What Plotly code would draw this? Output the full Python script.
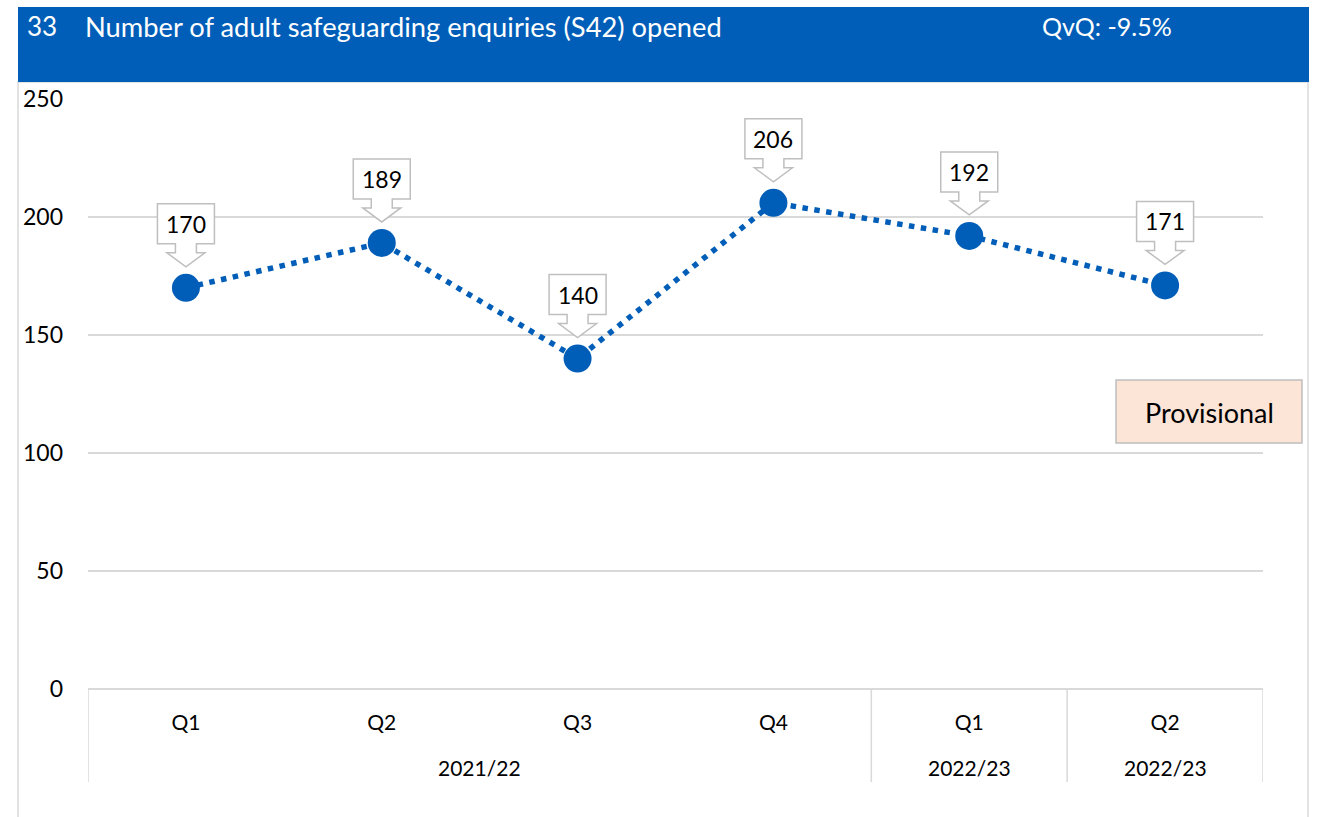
import plotly.graph_objects as go

# Quarterly counts of adult safeguarding enquiries (S42) opened
quarters = ["Q1", "Q2", "Q3", "Q4", "Q1", "Q2"]
years = ["2021/22", "", "", "", "2022/23", "2022/23"]  # blank = same group as previous
values = [170, 189, 140, 206, 192, 171]
y_ticks = [0, 50, 100, 150, 200, 250]

title_number = "33"
title_text = "Number of adult safeguarding enquiries (S42) opened"
qvq_text = "QvQ: -9.5%"
status_text = "Provisional"

BLUE = "#005EB8"
GRID = "#D9D9D9"
BOX_LINE = "#BFBFBF"
FONT = "Lato"

W, H = 1325, 817
L, R, T, B = 88, 62, 99, 128
plot_w = W - L - R
plot_h = H - T - B


def px_x(px):
    return (px - L) / plot_w


def px_y(py):
    return (H - B - py) / plot_h


positions = list(range(len(values)))

fig = go.Figure()
fig.add_trace(go.Scatter(
    x=positions, y=values, mode="lines",
    line=dict(color=BLUE, width=5.5, dash="5.5px,6.5px"),
    hoverinfo="skip", showlegend=False,
))
fig.add_trace(go.Scatter(
    x=positions, y=values, mode="markers",
    marker=dict(color=BLUE, size=28, line=dict(width=0)),
    showlegend=False,
))

shapes = []
annotations = []

# callout boxes with a hollow down-arrow above each point
callout_path = ("M -28.5,84 L 28.5,84 L 28.5,44 L 10.5,44 L 10.5,35 L 19,35 "
                "L 0,21 L -19,35 L -10.5,35 L -10.5,44 L -28.5,44 Z")
for xi, v in zip(positions, values):
    shapes.append(dict(
        type="path", xref="x", yref="y", xsizemode="pixel", ysizemode="pixel",
        xanchor=xi, yanchor=v, path=callout_path,
        fillcolor="white", line=dict(color=BOX_LINE, width=1.5), layer="above",
    ))
    annotations.append(dict(
        x=xi, y=v, xref="x", yref="y", text=str(v), showarrow=False,
        yshift=64, font=dict(family=FONT, size=23, color="black"),
    ))

# year group labels and dividers for the two-level category axis
groups = []
for i, yr in enumerate(years):
    if yr or not groups:
        groups.append([yr, i, i])
    else:
        groups[-1][2] = i
div_bottom = px_y(782)
for label, start, end in groups:
    annotations.append(dict(
        x=(start + end) / 2, y=px_y(767), xref="x", yref="paper", text=label,
        showarrow=False, yanchor="middle",
        font=dict(family=FONT, size=21, color="black"),
    ))
    shapes.append(dict(type="line", xref="x", yref="paper", x0=start - 0.5, x1=start - 0.5,
                       y0=0, y1=div_bottom, line=dict(color=GRID, width=1.5), layer="below"))
last_end = groups[-1][2]
shapes.append(dict(type="line", xref="x", yref="paper", x0=last_end + 0.5, x1=last_end + 0.5,
                   y0=0, y1=div_bottom, line=dict(color=GRID, width=1.5), layer="below"))

# chart frame and header band
shapes.append(dict(type="rect", xref="paper", yref="paper",
                   x0=px_x(18), x1=px_x(1308), y0=px_y(830), y1=px_y(82),
                   line=dict(color=GRID, width=1.5), fillcolor="rgba(0,0,0,0)", layer="below"))
shapes.append(dict(type="rect", xref="paper", yref="paper",
                   x0=px_x(18), x1=px_x(1309), y0=px_y(82), y1=px_y(7),
                   line=dict(width=0), fillcolor=BLUE, layer="above"))
annotations.append(dict(x=px_x(25), y=px_y(26), xref="paper", yref="paper", text=title_number,
                        showarrow=False, xanchor="left", yanchor="middle",
                        font=dict(family=FONT, size=26, color="white")))
annotations.append(dict(x=px_x(83), y=px_y(26), xref="paper", yref="paper", text=title_text,
                        showarrow=False, xanchor="left", yanchor="middle",
                        font=dict(family=FONT, size=27.3, color="white")))
annotations.append(dict(x=px_x(1040), y=px_y(26), xref="paper", yref="paper", text=qvq_text,
                        showarrow=False, xanchor="left", yanchor="middle",
                        font=dict(family=FONT, size=25, color="white")))

# status box
shapes.append(dict(type="rect", xref="paper", yref="paper",
                   x0=px_x(1116), x1=px_x(1302), y0=px_y(443), y1=px_y(380),
                   line=dict(color=BOX_LINE, width=1.5), fillcolor="#FCE4D6", layer="above"))
annotations.append(dict(x=px_x(1209), y=px_y(412), xref="paper", yref="paper", text=status_text,
                        showarrow=False, xanchor="center", yanchor="middle",
                        font=dict(family=FONT, size=27, color="black")))

fig.update_layout(
    width=W, height=H,
    margin=dict(l=L, r=R, t=T, b=B),
    paper_bgcolor="white", plot_bgcolor="white",
    font=dict(family=FONT, color="black"),
    shapes=shapes, annotations=annotations,
    showlegend=False,
)
fig.update_xaxes(
    range=[-0.5, len(values) - 0.5], tickvals=positions, ticktext=quarters,
    showgrid=False, zeroline=False, showline=False, ticks="",
    tickfont=dict(family=FONT, size=21), ticklabelstandoff=19, fixedrange=True,
)
fig.update_yaxes(
    range=[0, 250], tickvals=y_ticks, showgrid=True, gridcolor=GRID, gridwidth=1.5,
    zeroline=True, zerolinecolor=GRID, zerolinewidth=1.5, showline=False, ticks="",
    tickfont=dict(family=FONT, size=23), ticklabelstandoff=24, fixedrange=True,
)

fig.write_html("out.html")
